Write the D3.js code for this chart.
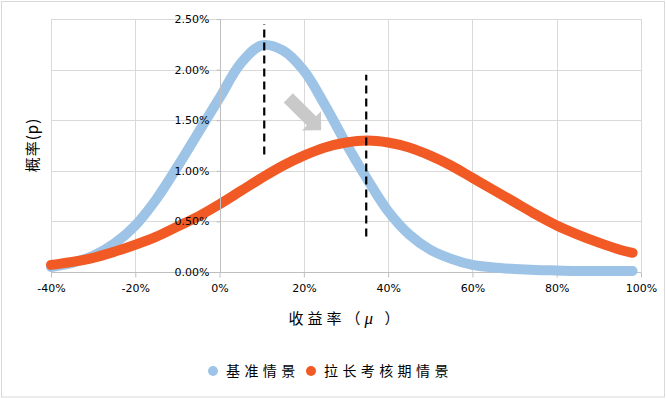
<!DOCTYPE html>
<html>
<head>
<meta charset="utf-8">
<script src="https://cdn.jsdelivr.net/npm/d3@7"></script>
<style>
  body { margin: 0; background: #fff; }
  svg { display: block; }
</style>
</head>
<body>
<svg class="chart"></svg>
<script>
// returns (fraction)
var returns = [-0.40, -0.35, -0.30, -0.25, -0.20, -0.15, -0.10, -0.05, 0.00, 0.05, 0.10, 0.15, 0.20, 0.25, 0.30,
               0.35, 0.40, 0.45, 0.50, 0.55, 0.60, 0.65, 0.70, 0.75, 0.80, 0.85, 0.90, 0.95, 0.98];
// probability (%) for 基准情景
var baseProb = [0.05, 0.09, 0.16, 0.28, 0.46, 0.72, 1.04, 1.38, 1.72, 2.06, 2.24, 2.19, 1.99, 1.65, 1.27,
                0.92, 0.60, 0.37, 0.22, 0.13, 0.07, 0.045, 0.03, 0.02, 0.015, 0.01, 0.01, 0.01, 0.01];
// probability (%) for 拉长考核期情景
var longProb = [0.07, 0.10, 0.14, 0.20, 0.27, 0.35, 0.45, 0.55, 0.67, 0.80, 0.93, 1.05, 1.15, 1.23, 1.28,
                1.30, 1.28, 1.23, 1.15, 1.05, 0.93, 0.81, 0.69, 0.57, 0.46, 0.37, 0.29, 0.22, 0.19];

var seriesNames = ["基准情景", "拉长考核期情景"];
var seriesColors = ["#9DC3E6", "#F15A24"];

var xTicks = [-0.4, -0.2, 0, 0.2, 0.4, 0.6, 0.8, 1.0];
var yTicks = [0, 0.005, 0.01, 0.015, 0.02, 0.025];

// dashed marker lines: [x, yFrom, yTo]
var markers = [[0.106, 0.0116, 0.0245], [0.348, 0.0035, 0.0195]];
// shift arrow: [x, y] start and tip
var arrowFrom = [0.163, 0.0172], arrowTo = [0.241, 0.0140];

var W = 666, H = 399;
var margin = {top: 19, bottom: 127, right: 25, left: 51},
    width = W - margin.left - margin.right,
    height = H - margin.top - margin.bottom;

var root = d3.select(".chart").attr("width", W).attr("height", H);

root.append("rect")
    .attr("x", 1.5).attr("y", 1.5)
    .attr("width", W - 3).attr("height", H - 3.5)
    .attr("fill", "#fff").attr("stroke", "#d9d9d9");

var svg = root.append("g")
    .attr("transform", "translate(" + margin.left + "," + margin.top + ")");

var x = d3.scaleLinear().domain([-0.4, 1.0]).range([0, width]);
var y = d3.scaleLinear().domain([0, 0.025]).range([height, 0]);

var pct0 = d3.format(".0%"), pct2 = d3.format(".2%");
function hyphen(s) { return s.replace("\u2212", "-"); }

// gridlines
svg.append("g").selectAll("line").data(xTicks).enter().append("line")
    .attr("x1", function(d) { return Math.round(x(d)) + 0.5; })
    .attr("x2", function(d) { return Math.round(x(d)) + 0.5; })
    .attr("y1", 0).attr("y2", height)
    .attr("stroke", "#d9d9d9");
svg.append("g").selectAll("line").data(yTicks).enter().append("line")
    .attr("y1", function(d) { return Math.round(y(d)) + 0.5; })
    .attr("y2", function(d) { return Math.round(y(d)) + 0.5; })
    .attr("x1", 0).attr("x2", width)
    .attr("stroke", "#d9d9d9");

// curves
var line = d3.line()
    .x(function(d) { return x(d[0]); })
    .y(function(d) { return y(d[1] / 100); })
    .curve(d3.curveCatmullRom.alpha(0.5));

// x axis at y=0
var xAxis = svg.append("g")
    .attr("transform", "translate(0," + (Math.round(y(0)) + 0.5) + ")")
    .call(d3.axisBottom(x).tickValues(xTicks).tickSize(5).tickPadding(7)
        .tickFormat(function(d) { return hyphen(pct0(d)); }));

[baseProb, longProb].forEach(function(vals, i) {
    svg.append("path")
        .datum(returns.map(function(r, j) { return [r, vals[j]]; }))
        .attr("fill", "none")
        .attr("stroke", seriesColors[i])
        .attr("stroke-width", 10)
        .attr("stroke-linecap", "round")
        .attr("stroke-linejoin", "round")
        .attr("d", line);
});

// y axis at x=0, labels over the curves
var yAxis = svg.append("g")
    .attr("transform", "translate(" + (Math.round(x(0)) + 0.5) + ",0)")
    .call(d3.axisLeft(y).tickValues(yTicks).tickSize(4).tickPadding(7)
        .tickFormat(function(d) { return pct2(d); }));

[xAxis, yAxis].forEach(function(a) {
    a.select(".domain").attr("stroke", "#bfbfbf");
    a.selectAll(".tick line").attr("stroke", "#bfbfbf");
    a.selectAll("text")
        .attr("fill", "#000")
        .style("font-family", "'DejaVu Sans', Verdana, sans-serif")
        .style("font-size", "11px");
});
xAxis.select(".domain").attr("d", "M0,0H" + width);
yAxis.select(".domain").attr("d", "M0," + height + "V0");

// dashed mean markers
svg.append("g").selectAll("line").data(markers).enter().append("line")
    .attr("x1", function(d) { return x(d[0]); })
    .attr("x2", function(d) { return x(d[0]); })
    .attr("y1", function(d) { return y(d[1]); })
    .attr("y2", function(d) { return y(d[2]); })
    .attr("stroke", "#000")
    .attr("stroke-width", 2.2)
    .attr("stroke-dasharray", "8,5");

// arrow
(function() {
    var x0 = x(arrowFrom[0]), y0 = y(arrowFrom[1]),
        x1 = x(arrowTo[0]), y1 = y(arrowTo[1]);
    var dx = x1 - x0, dy = y1 - y0, len = Math.sqrt(dx * dx + dy * dy);
    var ux = dx / len, uy = dy / len, nx = -uy, ny = ux;
    var shaft = 6.5, head = 13.5, headLen = 13.5;
    var bx = x1 - ux * headLen, by = y1 - uy * headLen;
    var pts = [
        [x0 + nx * shaft, y0 + ny * shaft],
        [bx + nx * shaft, by + ny * shaft],
        [bx + nx * head, by + ny * head],
        [x1, y1],
        [bx - nx * head, by - ny * head],
        [bx - nx * shaft, by - ny * shaft],
        [x0 - nx * shaft, y0 - ny * shaft]
    ];
    svg.append("path")
        .attr("d", "M" + pts.join("L") + "Z")
        .attr("fill", "#c9c9c9");
})();

// axis titles
var cjk = "'Noto Sans CJK SC', 'Noto Sans', sans-serif";
root.append("text")
    .attr("transform", "translate(38,145) rotate(-90)")
    .attr("text-anchor", "middle")
    .style("font-family", cjk)
    .style("font-size", "15px")
    .style("letter-spacing", "1px")
    .text("概率(p)");

var xt = root.append("text")
    .attr("x", 346).attr("y", 324)
    .attr("text-anchor", "middle")
    .style("font-family", cjk)
    .style("font-size", "15px")
    .style("letter-spacing", "4px");
xt.append("tspan").text("收益率（");
xt.append("tspan").style("font-style", "italic").style("font-family", "'Liberation Serif', serif")
    .style("font-size", "17px").text("μ");
xt.append("tspan").text(" ）");

// legend
var legend = root.append("g").attr("transform", "translate(0,371)");
var lx = [213, 311];
seriesNames.forEach(function(name, i) {
    legend.append("circle")
        .attr("cx", lx[i]).attr("cy", 0).attr("r", 5)
        .attr("fill", seriesColors[i]);
    legend.append("text")
        .attr("x", lx[i] + 13).attr("y", 5)
        .style("font-family", cjk)
        .style("font-size", "14px")
        .style("letter-spacing", "4.4px")
        .text(name);
});
</script>
</body>
</html>
